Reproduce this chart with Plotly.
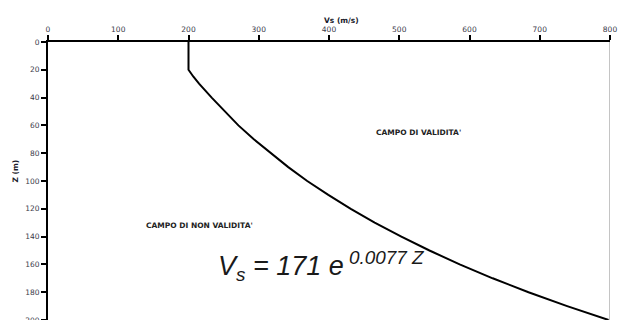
import plotly.graph_objects as go

# Data
depth_z = [0, 20, 25, 30, 40, 50, 60, 70, 80, 90, 100, 110, 120, 130, 140, 150, 160, 170, 180, 190, 200]
vs_values = [200, 200, 207, 215, 233, 252, 271, 293, 317, 342, 369, 399, 431, 465, 503, 543, 586, 633, 684, 739, 798]
x_ticks = [0, 100, 200, 300, 400, 500, 600, 700, 800]
y_ticks = [0, 20, 40, 60, 80, 100, 120, 140, 160, 180, 200]
x_title = "Vs (m/s)"
y_title = "Z (m)"
label_valid = "CAMPO DI VALIDITA'"
label_invalid = "CAMPO DI NON VALIDITA'"
equation = "<i>V<sub>s</sub> = 171 e<sup> 0.0077 Z</sup></i>"

FONT = "DejaVu Sans, Arial, sans-serif"

fig = go.Figure()
fig.add_trace(go.Scatter(
    x=vs_values, y=depth_z, mode="lines",
    line=dict(color="black", width=2),
    hoverinfo="skip", showlegend=False, cliponaxis=False,
))

tick_font = dict(family=FONT, size=7.5, color="#3a3a4a")

fig.update_layout(
    width=621, height=320,
    margin=dict(l=48, r=11, t=42, b=0, autoexpand=False),
    paper_bgcolor="white", plot_bgcolor="white",
    xaxis=dict(
        side="top", range=[0, 800], tickvals=x_ticks,
        showgrid=False, zeroline=False, automargin=False,
        showline=True, linecolor="black", linewidth=2,
        ticks="outside", ticklen=5, tickwidth=2, tickcolor="black",
        tickfont=tick_font, ticklabeloverflow="allow",
    ),
    yaxis=dict(
        range=[200, 0], tickvals=y_ticks,
        showgrid=False, zeroline=False, automargin=False,
        showline=True, linecolor="black", linewidth=2,
        ticks="outside", ticklen=5, tickwidth=2, tickcolor="black",
        tickfont=tick_font, ticklabeloverflow="allow",
    ),
)

# right-side border
fig.add_shape(type="line", xref="x", yref="paper", x0=800, x1=800, y0=0, y1=1,
              line=dict(color="#888", width=1))

fig.add_annotation(text="<b>" + x_title + "</b>", xref="paper", yref="paper",
                   x=0.522, y=1.0, yshift=28, showarrow=False,
                   font=dict(family=FONT, size=7.5, color="#1a1a2a"))
fig.add_annotation(text="<b>" + y_title + "</b>", xref="paper", yref="paper",
                   x=0, y=0.5, xshift=-40, yshift=10, textangle=-90, showarrow=False,
                   font=dict(family=FONT, size=7.5, color="#1a1a2a"))

fig.add_annotation(text="<b>" + label_valid + "</b>", x=527, y=65, xref="x", yref="y",
                   showarrow=False,
                   font=dict(family=FONT, size=7.5, color="#222"))
fig.add_annotation(text="<b>" + label_invalid + "</b>", x=216, y=132, xref="x", yref="y",
                   showarrow=False,
                   font=dict(family=FONT, size=7.5, color="#222"))
fig.add_annotation(text=equation, x=239, y=161, xref="x", yref="y",
                   xanchor="left", showarrow=False,
                   font=dict(family="Arial, Liberation Sans, sans-serif", size=27, color="#1a1a1a"))

fig.write_html(
    "out.html",
    config={"displayModeBar": False},
    post_script="document.body.style.margin='0';document.body.style.overflow='hidden';",
)
